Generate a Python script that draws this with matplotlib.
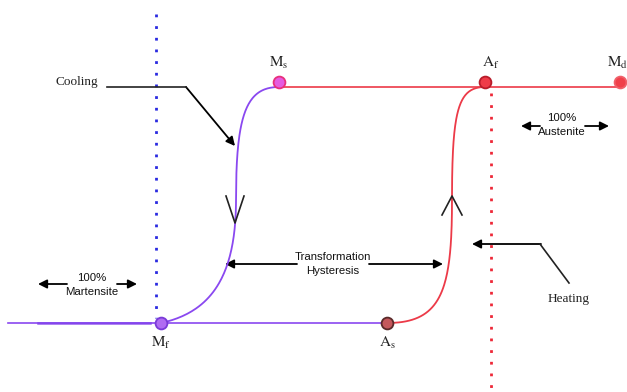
import matplotlib.pyplot as plt
import numpy as np
from matplotlib.patches import FancyArrowPatch

plt.rcParams['mathtext.fontset'] = 'stix'

# Schematic transformation temperatures (x) and phase levels (y, screen units)
labels = ['M_f', 'M_s', 'A_s', 'A_f', 'M_d']
temps = [161, 279, 387, 485, 620]
levels = [323, 87, 323, 87, 87]
marker_face = ['#b06cf2', '#e55ce0', '#c4585c', '#ef3b48', '#f0404a']
marker_edge = ['#7a3ad8', '#e8307c', '#5a2a2a', '#b81c2a', '#f0606a']
low, high = 323, 87
purple = '#8a48f0'
red = '#ec3a48'

fig = plt.figure(figsize=(6.27, 3.92), dpi=100)
ax = fig.add_axes([0, 0, 1, 1])
ax.set_xlim(0, 627)
ax.set_ylim(392, 0)
ax.axis('off')


def bezier(p0, p1, p2, p3, n=80):
    t = np.linspace(0, 1, n)[:, None]
    pts = ((1 - t) ** 3 * np.array(p0) + 3 * (1 - t) ** 2 * t * np.array(p1)
           + 3 * (1 - t) * t ** 2 * np.array(p2) + t ** 3 * np.array(p3))
    return pts[:, 0], pts[:, 1]


Mf, Ms, As, Af, Md = temps

# dotted boundaries
ax.plot([156, 156], [14, 318], color='#2a2ae0', lw=2, ls=(0, (1, 3.2)))
ax.plot([491, 491], [93, 392], color='#ee2838', lw=2, ls=(0, (1, 3.2)))

# bottom martensite line
ax.plot([8, As], [low, low], color=purple, lw=1.2)
ax.plot([38, 150], [low + 0.4, low + 0.4], color='#8040ec', lw=1.8, alpha=0.85)
# top austenite line
ax.plot([Ms, Md], [high, high], color=red, lw=1.2)

# cooling curve (Mf -> Ms)
xc = 236
x1, y1 = bezier((Mf, low), (212, 312), (xc, 275), (xc, 200))
x2, y2 = bezier((xc, 200), (xc, 115), (246, high), (Ms, high))
ax.plot(np.r_[x1, x2], np.r_[y1, y2], color=purple, lw=1.3)

# heating curve (As -> Af)
xh = 452
x1, y1 = bezier((As, low), (442, low), (xh, 290), (xh, 200))
x2, y2 = bezier((xh, 200), (xh, 110), (458, high), (Af, high))
ax.plot(np.r_[x1, x2], np.r_[y1, y2], color=red, lw=1.3)

# direction chevrons
ax.plot([226, 235, 244], [196, 223, 196], color='#222222', lw=1.2)
ax.plot([442, 452, 462], [215, 196, 215], color='#222222', lw=1.2)

# markers
for x, y, fc, ec in zip(temps, levels, marker_face, marker_edge):
    ax.plot(x, y - (5 if y == high else 0), 'o', ms=8.5, mfc=fc, mec=ec, mew=1.3,
            zorder=5)

# point labels
lab_pos = [(161, 343), (279, 63), (387, 343), (491, 63), (618, 63)]
for name, (x, y) in zip(labels, lab_pos):
    base, sub = name.split('_')
    ax.text(x, y, r'$\mathrm{%s_{%s}}$' % (base, sub), ha='center', va='center',
            fontsize=11, color='#222222')


def arrow(p_from, p_to, lw=1.3):
    ax.add_patch(FancyArrowPatch(p_from, p_to, arrowstyle='-|>',
                                 mutation_scale=13, color='black', lw=lw,
                                 shrinkA=0, shrinkB=0))


serif = dict(family='Liberation Serif', fontsize=9.5, color='#222222')
sans = dict(family='Liberation Sans', fontsize=8.2, color='#111111',
            ha='center', va='center', linespacing=1.45)

# Cooling leader
ax.text(77, 82, 'Cooling', ha='center', va='center', **serif)
ax.plot([107, 186], [87, 87], color='#222222', lw=1.2)
arrow((186, 87), (235, 146))

# Heating leader
ax.text(569, 299, 'Heating', ha='center', va='center', **serif)
ax.plot([569, 540], [283, 244], color='#222222', lw=1.2)
arrow((541, 244), (472, 244))

# Transformation hysteresis
ax.text(333, 264, 'Transformation\nHysteresis', **sans)
arrow((297, 264), (225, 264))
arrow((369, 264), (443, 264))

# 100% martensite
ax.text(92, 285, '100%\nMartensite', **sans)
arrow((67, 284), (38, 284))
arrow((117, 284), (137, 284))

# 100% austenite
ax.text(562, 125, '100%\nAustenite', **sans)
arrow((540, 126), (521, 126))
arrow((585, 126), (609, 126))

fig.savefig('out.png', dpi=100)
